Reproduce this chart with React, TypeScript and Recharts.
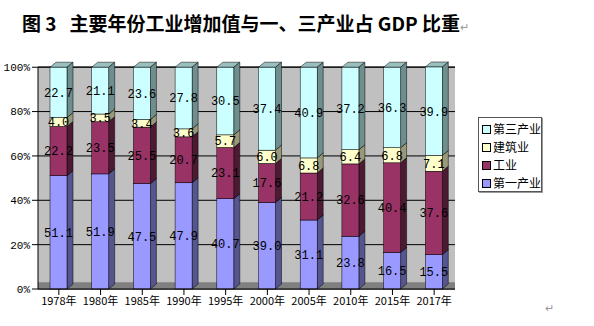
import { Bar, BarChart, CartesianGrid, LabelList, ReferenceArea, XAxis, YAxis } from 'recharts'

const years = ['1978年', '1980年', '1985年', '1990年', '1995年', '2000年', '2005年', '2010年', '2015年', '2017年']
const primary = [51.1, 51.9, 47.5, 47.9, 40.7, 39.0, 31.1, 23.8, 16.5, 15.5]
const industry = [22.2, 23.5, 25.5, 20.7, 23.1, 17.6, 21.2, 32.6, 40.4, 37.6]
const construction = [4.0, 3.5, 3.4, 3.6, 5.7, 6.0, 6.8, 6.4, 6.8, 7.1]
const tertiary = [22.7, 21.1, 23.6, 27.8, 30.5, 37.4, 40.9, 37.2, 36.3, 39.9]
const yTicks = [0, 20, 40, 60, 80, 100]

const series = [
  { key: 'primary', name: '第一产业', fill: '#9999FF', side: '#55558F', top: '#7777CC' },
  { key: 'industry', name: '工业', fill: '#993366', side: '#4D1A33', top: '#6E2449' },
  { key: 'construction', name: '建筑业', fill: '#FFFFCC', side: '#99997A', top: '#CCCCA3' },
  { key: 'tertiary', name: '第三产业', fill: '#CCFFFF', side: '#6F8F8F', top: '#99BFBF' },
]

const chartData = years.map((year, i) => ({
  year,
  primary: primary[i],
  industry: industry[i],
  construction: construction[i],
  tertiary: tertiary[i],
}))

const DX = 6
const DY = 5

function make3D(fill: string, side: string, top: string) {
  return (props: any) => {
    const { x, y, width, height } = props
    if (height == null || width == null) return <g />
    return (
      <g>
        <polygon
          points={`${x},${y} ${x + DX},${y - DY} ${x + width + DX},${y - DY} ${x + width},${y}`}
          fill={top}
          stroke="#000"
          strokeWidth={0.5}
        />
        <polygon
          points={`${x + width},${y} ${x + width + DX},${y - DY} ${x + width + DX},${y + height - DY} ${x + width},${y + height}`}
          fill={side}
          stroke="#000"
          strokeWidth={0.5}
        />
        <rect x={x} y={y} width={width} height={height} fill={fill} stroke="#000" strokeWidth={0.5} />
      </g>
    )
  }
}

const legendOrder = [...series].reverse()

export default function App() {
  return (
    <div style={{ position: 'absolute', left: 0, top: 0, width: 594, height: 326, background: '#fff' }}>
      <div
        style={{
          position: 'absolute',
          left: 22,
          top: 9,
          fontFamily: '"Noto Sans CJK SC", sans-serif',
          fontWeight: 'bold',
          fontSize: 19,
          whiteSpace: 'nowrap',
        }}
      >
        图 3&nbsp;&nbsp; 主要年份工业增加值与一、三产业占 GDP 比重
        <span style={{ fontSize: 11, fontWeight: 'normal', color: '#999' }}>↵</span>
      </div>
      <BarChart
        width={594}
        height={326}
        data={chartData}
        margin={{ top: 67, right: 139, left: 8, bottom: 6 }}
        barSize={17}
      >
        <CartesianGrid vertical={false} stroke="#000" fill="#C0C0C0" />
        <ReferenceArea y1={0} y2={3} fill="#808080" fillOpacity={1} stroke="none" />
        <XAxis
          dataKey="year"
          height={31}
          stroke="#000"
          tick={{ fill: '#000', fontSize: 11, fontFamily: '"Noto Sans CJK SC", sans-serif' }}
          tickLine={{ stroke: '#000' }}
          interval={0}
        />
        <YAxis
          width={30}
          domain={[0, 100]}
          ticks={yTicks}
          stroke="#000"
          tickFormatter={(v: number) => `${v}%`}
          tick={{ fill: '#000', fontSize: 11, fontFamily: '"Liberation Mono", monospace' }}
        />
        {series.map((s) => (
          <Bar
            key={s.key}
            dataKey={s.key}
            name={s.name}
            stackId="a"
            fill={s.fill}
            isAnimationActive={false}
            shape={make3D(s.fill, s.side, s.top)}
          >
            <LabelList
              dataKey={s.key}
              position="center"
              formatter={(v: any) => Number(v).toFixed(1)}
              style={{ fill: '#000', fontSize: 12, fontFamily: '"Liberation Mono", monospace' }}
            />
          </Bar>
        ))}
      </BarChart>
      <div
        style={{
          position: 'absolute',
          left: 478,
          top: 117,
          width: 64,
          height: 75,
          border: '1px solid #555',
          boxShadow: '1px 1px 0 #999',
          background: '#fff',
          fontFamily: '"Noto Sans CJK SC", sans-serif',
          fontSize: 12,
          padding: '2px 0 0 3px',
          boxSizing: 'border-box',
        }}
      >
        {legendOrder.map((s) => (
          <div key={s.key} style={{ display: 'flex', alignItems: 'center', height: 18, lineHeight: '18px' }}>
            <span
              style={{
                display: 'inline-block',
                width: 7,
                height: 7,
                background: s.fill,
                border: '1px solid #000',
                marginRight: 2,
              }}
            />
            {s.name}
          </div>
        ))}
      </div>
      <div style={{ position: 'absolute', left: 545, top: 302, fontSize: 11, color: '#999' }}>↵</div>
    </div>
  )
}
